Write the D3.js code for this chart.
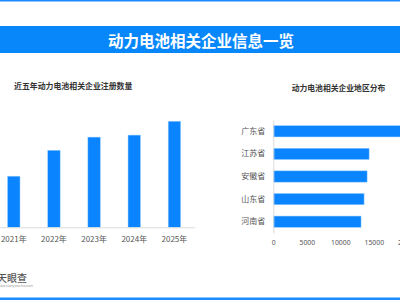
<!DOCTYPE html>
<html>
<head>
<meta charset="utf-8">
<script src="https://cdn.jsdelivr.net/npm/d3@7"></script>
<style>
  body { margin: 0; background: #fff; }
  svg { display: block; font-family: "Noto Sans CJK SC", "Noto Sans", sans-serif; }
</style>
</head>
<body>
<div id="chart"></div>
<script>
// data
var years = ["2021年", "2022年", "2023年", "2024年", "2025年"];
var yearCounts = [5060, 7630, 8930, 9130, 10500];

var provinces = ["广东省", "江苏省", "安徽省", "山东省", "河南省"];
var provinceCounts = [25000, 14300, 14000, 13550, 13100];
var provinceTicks = [0, 5000, 10000, 15000, 20000];

var mainTitle = "动力电池相关企业信息一览";
var leftTitle = "近五年动力电池相关企业注册数量";
var rightTitle = "动力电池相关企业地区分布";

var barColor = "#0a84ff";
var barEdge = "#9ccfff";
var axisColor = "#dcdcdc";
var labelColor = "#555";

var width = 400, height = 300;

var svg = d3.select("#chart")
  .append("svg")
    .attr("width", width)
    .attr("height", height);

// top / bottom accent lines
svg.append("rect").attr("x", 0).attr("y", 0).attr("width", width).attr("height", 1.5).attr("fill", "#1a8cff");
svg.append("rect").attr("x", 0).attr("y", 297.5).attr("width", width).attr("height", 2.5).attr("fill", "#1a8cff");

// title band
svg.append("rect")
  .attr("x", 0).attr("y", 26).attr("width", width).attr("height", 27)
  .attr("fill", "#0887fb");
svg.append("text")
  .attr("x", 201).attr("y", 39.5)
  .attr("text-anchor", "middle")
  .attr("dominant-baseline", "central")
  .attr("fill", "#fff")
  .attr("font-size", 15.5)
  .attr("font-weight", 700)
  .text(mainTitle);

// ---------------------------//
//       LEFT: bar chart      //
// ---------------------------//
svg.append("text")
  .attr("x", 14).attr("y", 85)
  .attr("dominant-baseline", "central")
  .attr("fill", "#333")
  .attr("font-size", 7.9)
  .attr("font-weight", 700)
  .text(leftTitle);

var x = d3.scaleBand()
  .domain(years)
  .range([-6.3, 194.5])
  .paddingInner(0.69)
  .paddingOuter(0.345);

var y = d3.scaleLinear()
  .domain([0, 12000])
  .range([227.3, 106.1]);

svg.append("g")
  .selectAll("rect")
  .data(years)
  .enter()
  .append("rect")
    .attr("x", function(d) { return x(d); })
    .attr("y", function(d, i) { return y(yearCounts[i]); })
    .attr("width", x.bandwidth())
    .attr("height", function(d, i) { return y(0) - y(yearCounts[i]); })
    .attr("fill", barColor)
    .attr("stroke", barEdge)
    .attr("stroke-width", 0.5);

var xAxis = svg.append("g")
  .attr("transform", "translate(0," + y(0) + ")")
  .call(d3.axisBottom(x).tickSize(0).tickPadding(9));
xAxis.select(".domain").attr("stroke", axisColor);
xAxis.selectAll("text").attr("fill", labelColor).attr("font-size", 8).attr("font-family", "Noto Sans CJK SC");

// ---------------------------//
//     RIGHT: horizontal bars //
// ---------------------------//
svg.append("text")
  .attr("x", 338.5).attr("y", 87)
  .attr("text-anchor", "middle")
  .attr("dominant-baseline", "central")
  .attr("fill", "#333")
  .attr("font-size", 7.8)
  .attr("font-weight", 700)
  .text(rightTitle);

var xr = d3.scaleLinear()
  .domain([0, 20000])
  .range([273.3, 407.3]);

var yr = d3.scaleBand()
  .domain(provinces)
  .range([120, 233])
  .paddingInner(0.5)
  .paddingOuter(0.25);

svg.append("g")
  .selectAll("rect")
  .data(provinces)
  .enter()
  .append("rect")
    .attr("x", xr(0))
    .attr("y", function(d) { return yr(d); })
    .attr("width", function(d, i) { return xr(provinceCounts[i]) - xr(0); })
    .attr("height", yr.bandwidth())
    .attr("fill", barColor)
    .attr("stroke", barEdge)
    .attr("stroke-width", 0.5);

var yAxisR = svg.append("g")
  .attr("transform", "translate(" + xr(0) + ",0)")
  .call(d3.axisLeft(yr).tickSize(0).tickPadding(8));
yAxisR.select(".domain").attr("stroke", axisColor);
yAxisR.selectAll("text").attr("fill", labelColor).attr("font-size", 8).attr("font-family", "Noto Sans CJK SC");

var xAxisR = svg.append("g")
  .attr("transform", "translate(0,233)")
  .call(d3.axisBottom(xr).tickValues(provinceTicks).tickSize(0).tickPadding(7).tickFormat(d3.format("d")));
xAxisR.select(".domain").remove();
xAxisR.selectAll("text").attr("fill", labelColor).attr("font-size", 6.8).attr("font-family", "Noto Sans");

// ---------------------------//
//       LOGO                 //
// ---------------------------//
svg.append("text")
  .attr("x", -3).attr("y", 281.5)
  .attr("fill", "#555")
  .attr("font-size", 10)
  .attr("font-weight", 500)
  .text("天眼查");
svg.append("text")
  .attr("x", -3).attr("y", 287)
  .attr("fill", "#999")
  .attr("font-size", 3.6)
  .text("www.tianyancha.com");
</script>
</body>
</html>
